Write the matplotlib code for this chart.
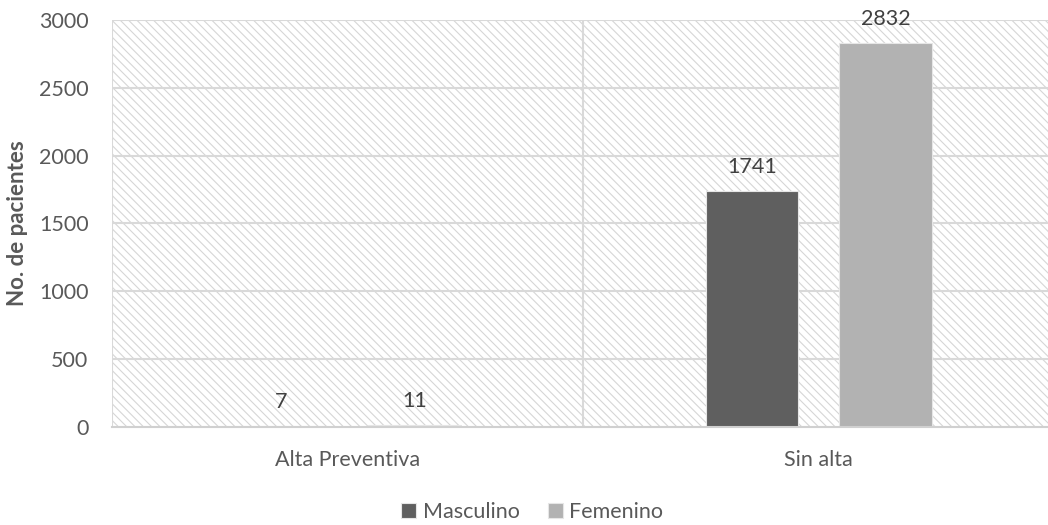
import matplotlib.pyplot as plt
import numpy as np
from matplotlib.patches import Rectangle

plt.rcParams['font.family'] = ['Lato', 'DejaVu Sans']
plt.rcParams['hatch.linewidth'] = 0.8

categorias = ["Alta Preventiva", "Sin alta"]
masculino = [7, 1741]
femenino = [11, 2832]
series = ["Masculino", "Femenino"]
colores = ["#5f5f5f", "#b2b2b2"]
texto = "#595959"
grid_c = "#d9d9d9"

fig = plt.figure(figsize=(10.48, 5.25), dpi=100)
ax = fig.add_axes([0.107, 0.187, 0.899, 0.775])

# patterned plot background
fondo = Rectangle((0, 0), 1, 1, transform=ax.transAxes, facecolor="white",
                  edgecolor="#d6d6d6", hatch="\\\\\\\\", linewidth=0, zorder=0)
ax.add_patch(fondo)

x = np.arange(len(categorias))
ancho = 0.197
desp = 0.1416
b1 = ax.bar(x - desp, masculino, ancho, color=colores[0], edgecolor="#e6e6e6",
            linewidth=0.8, label=series[0], zorder=3)
b2 = ax.bar(x + desp, femenino, ancho, color=colores[1], edgecolor="#e6e6e6",
            linewidth=0.8, label=series[1], zorder=3)

for barras, vals in ((b1, masculino), (b2, femenino)):
    for r, v in zip(barras, vals):
        ax.annotate(str(v), (r.get_x() + r.get_width() / 2, v),
                    xytext=(0, 10), textcoords="offset points",
                    ha="center", va="bottom", fontsize=15.5, color="#404040")

ax.set_xlim(-0.5, 1.5)
ax.set_ylim(0, 3000)
ax.set_yticks(np.arange(0, 3001, 500))
ax.set_xticks(x)
ax.set_xticklabels(categorias)
ax.tick_params(axis="both", length=0, labelsize=15.5, colors=texto)
ax.tick_params(axis="x", pad=17)
ax.tick_params(axis="y", pad=17)

for y in np.arange(500, 3001, 500):
    ax.axhline(y, color=grid_c, linewidth=1.5, zorder=1)
for xv in (-0.5, 0.5):
    ax.axvline(xv, color=grid_c, linewidth=1.5, zorder=1)

for s in ["top", "right", "left"]:
    ax.spines[s].set_visible(False)
ax.spines["bottom"].set_color("#d0d0d0")
ax.spines["bottom"].set_linewidth(1.5)
ax.spines["bottom"].set_zorder(4)

ax.set_ylabel("No. de pacientes", fontsize=16, fontweight="bold", color=texto,
              labelpad=8)

fig.legend(handles=[b1, b2], labels=series, loc="center",
           bbox_to_anchor=(0.508, 0.025), ncol=2,
           frameon=False, fontsize=15.5, handlelength=0.7, handleheight=0.7,
           handletextpad=0.3, columnspacing=1.3, labelcolor=texto)

fig.savefig("out.png", dpi=100)
